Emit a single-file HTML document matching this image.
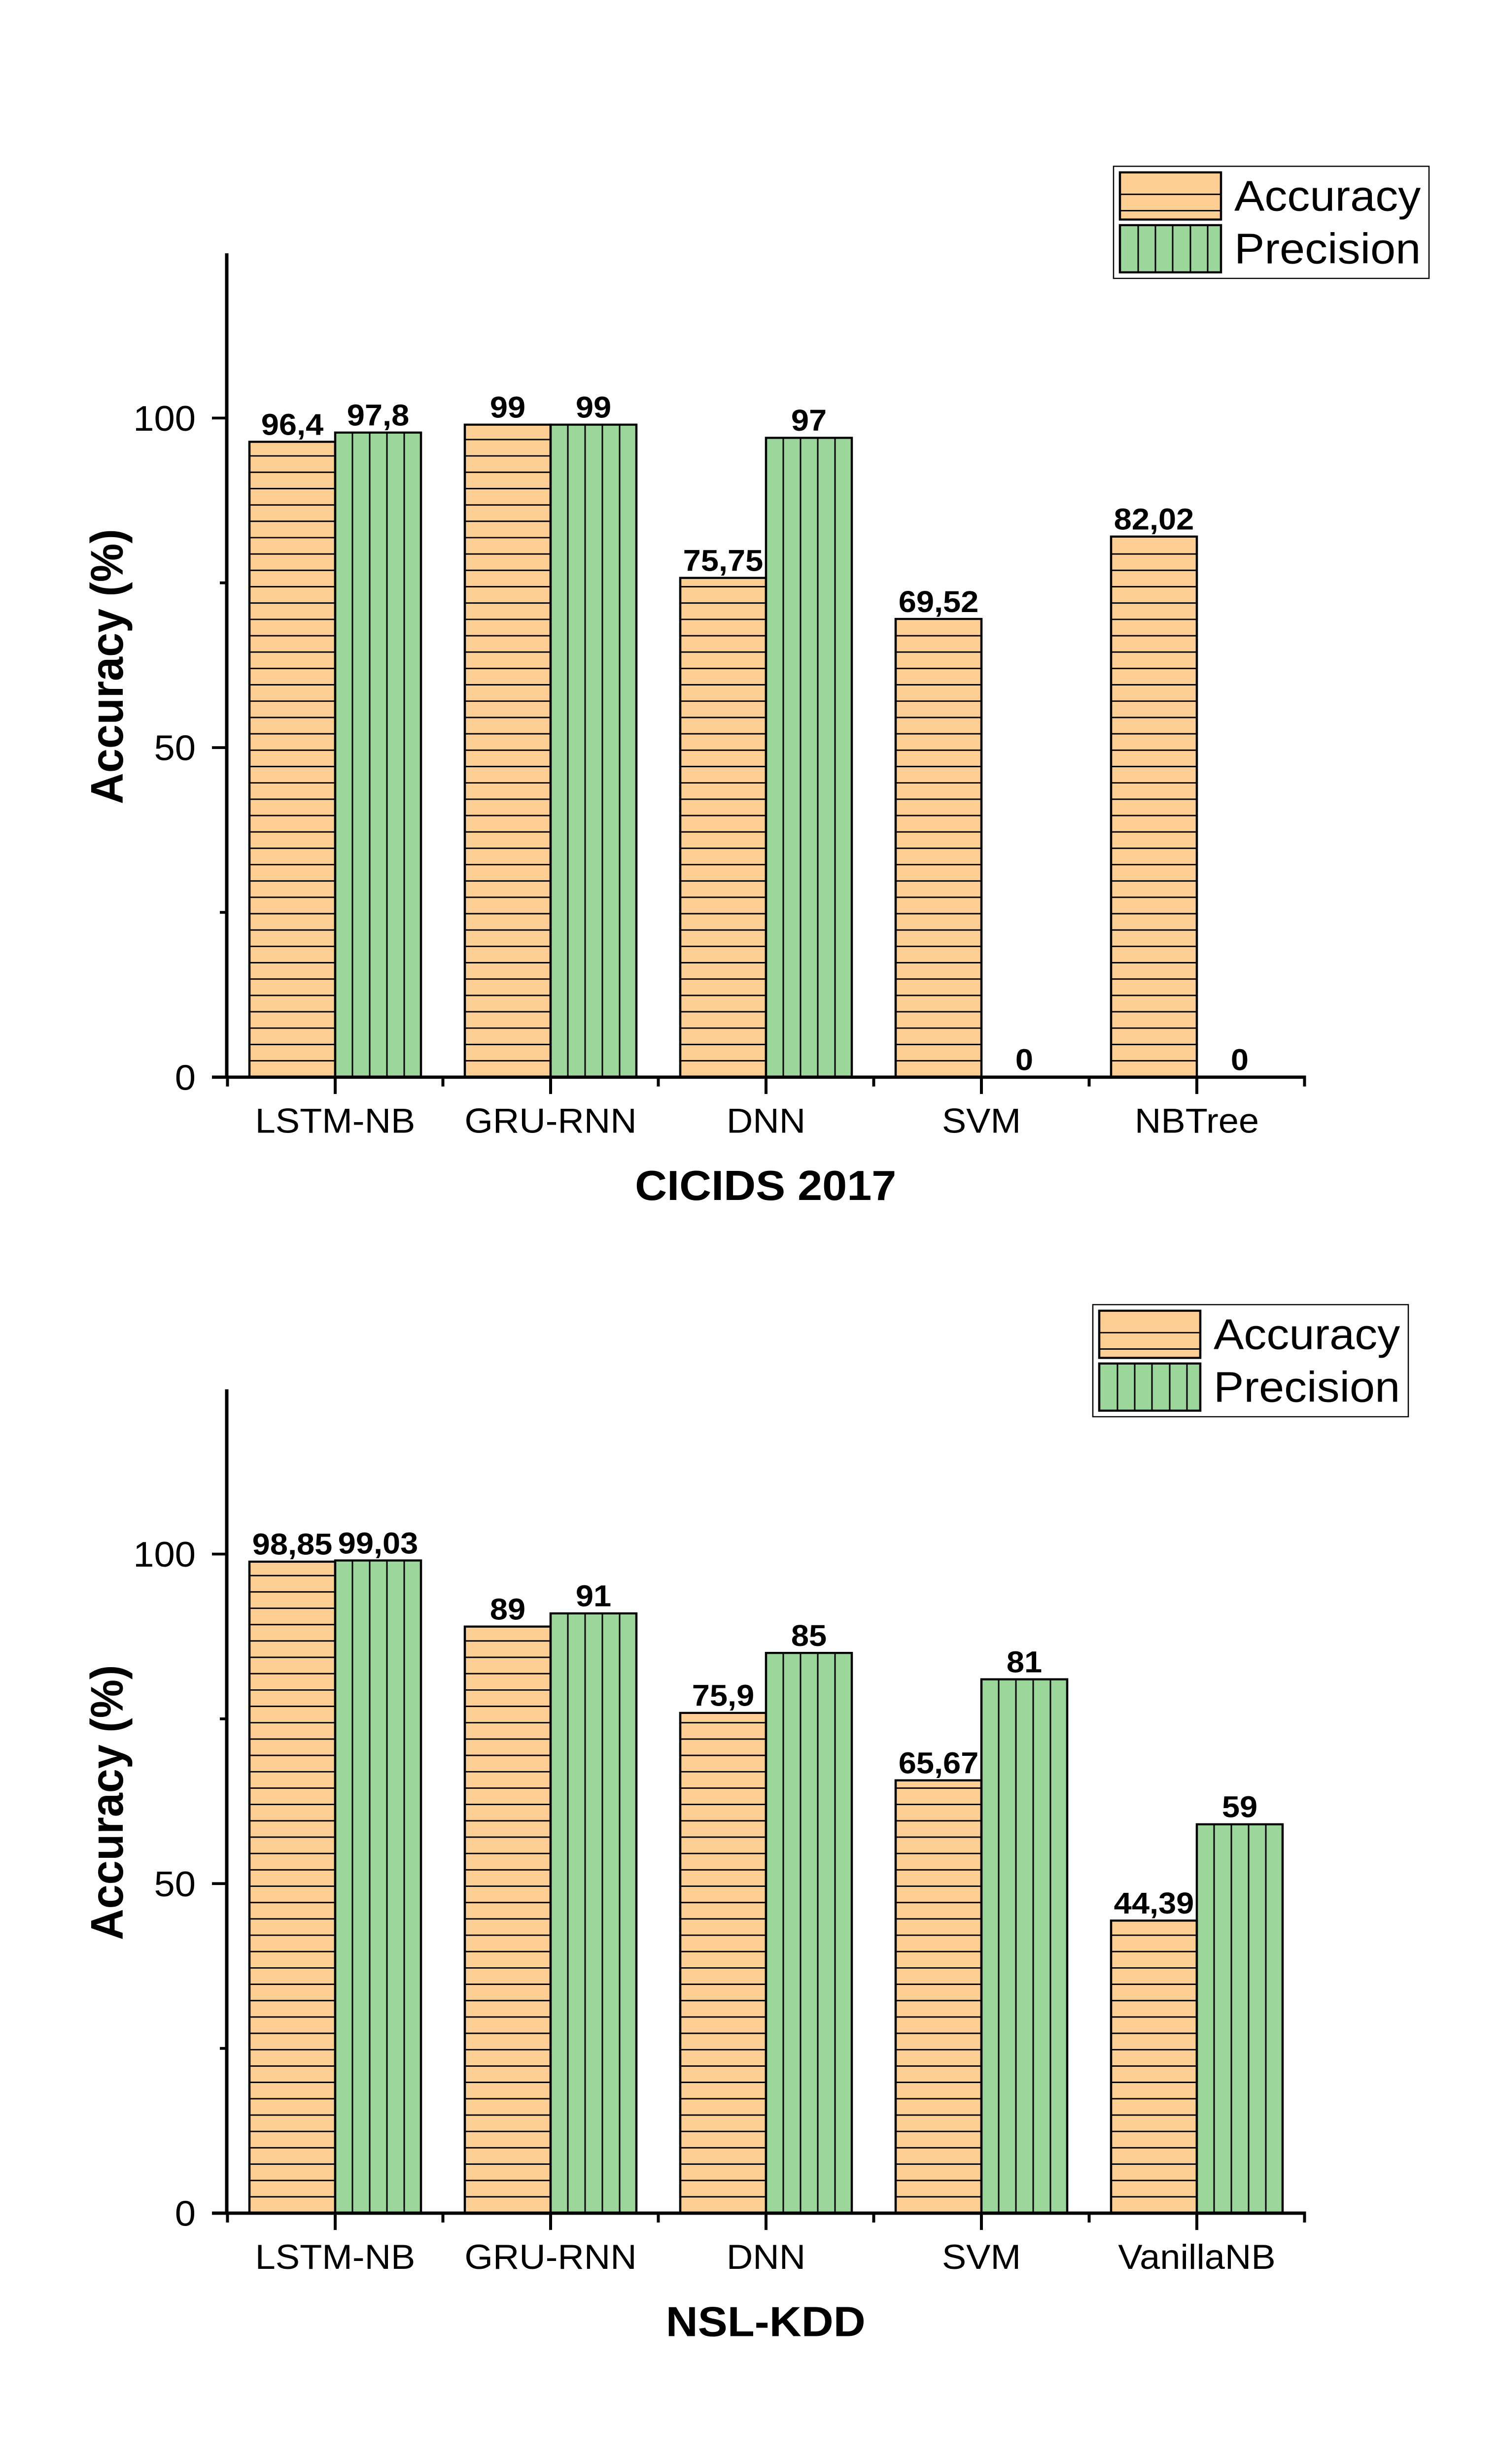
<!DOCTYPE html>
<html><head><meta charset="utf-8"><style>
html,body{margin:0;padding:0;background:#fff;width:100%;height:100%;overflow:hidden;}
svg{display:block;position:fixed;left:0;top:0;width:100vw;height:100vh;}
text{font-family:"Liberation Sans",Arial,sans-serif;fill:#000;}
</style></head>
<body>
<svg id="fig" xmlns="http://www.w3.org/2000/svg" viewBox="0 0 3041 5275" preserveAspectRatio="none">
<rect width="3041" height="5275" fill="#fff"/>
</svg>
<script>
const catsA = ["LSTM-NB","GRU-RNN","DNN","SVM","NBTree"];
const accA = [96.4, 99, 75.75, 69.52, 82.02];
const precA = [97.8, 99, 97, 0, 0];
const accLabelsA = ["96,4","99","75,75","69,52","82,02"];
const precLabelsA = ["97,8","99","97","0","0"];

const catsB = ["LSTM-NB","GRU-RNN","DNN","SVM","VanillaNB"];
const accB = [98.85, 89, 75.9, 65.67, 44.39];
const precB = [99.03, 91, 85, 81, 59];
const accLabelsB = ["98,85","89","75,9","65,67","44,39"];
const precLabelsB = ["99,03","91","85","81","59"];

const yMajorTicks = [0, 50, 100];
const yMinorTicks = [25, 75];
const yMax = 125;

const NS = "http://www.w3.org/2000/svg";
const svg = document.getElementById("fig");
function mk(tag, attrs, parent){
  const e = document.createElementNS(NS, tag);
  for (const k in attrs) e.setAttribute(k, attrs[k]);
  (parent||svg).appendChild(e);
  return e;
}
const ORANGE = "#FECF95", GREEN = "#9DD69A";

function drawChart(prefix, y0, cats, acc, prec, accL, precL, title, legX, legY){
  const g = mk("g", {});
  
  
  const pxPerUnit = 14.11;
  const xMin = 461.5, step = 437, bw = 174;
  const yS = v => y0 - v * pxPerUnit;
  const xC = i => xMin + step * (i + 0.5);

  function bar(i, v, isAcc, lbl){
    const left = isAcc ? xC(i) - bw : xC(i);
    const top = yS(v);
    const bg = mk("g", {}, g);
    
    
    if (v > 0) {
      mk("rect", {x:left, y:top, width:bw, height:y0-top, fill:isAcc?ORANGE:GREEN}, bg);
      if (isAcc) {
        for (let yy = y0 - 35; yy > top + 3; yy -= 35)
          mk("line", {x1:left, x2:left+bw, y1:yy, y2:yy, stroke:"#000", "stroke-width":3}, bg);
      } else {
        for (let xx = left + 35; xx < left + bw - 3; xx += 35)
          mk("line", {x1:xx, x2:xx, y1:top, y2:y0, stroke:"#000", "stroke-width":3}, bg);
      }
      mk("rect", {x:left, y:top, width:bw, height:y0-top, fill:"none", stroke:"#000", "stroke-width":4.5}, bg);
    }
    const t = mk("text", {x:left + bw/2, y:top - 15, "text-anchor":"middle", "font-size":65, "font-weight":"bold"}, g);
    
    
    t.textContent = lbl;
  }
  for (let i = 0; i < cats.length; i++){
    bar(i, acc[i], true, accL[i]);
    bar(i, prec[i], false, precL[i]);
  }

  const xEnd = xMin + step * cats.length;
  const yAx = mk("line", {x1:460, x2:460, y1:yS(yMax), y2:y0+3, stroke:"#000", "stroke-width":7}, g);
  
  
  const xAx = mk("line", {x1:430, x2:xEnd+3, y1:y0, y2:y0, stroke:"#000", "stroke-width":7}, g);
  
  

  yMajorTicks.forEach(v => {
    mk("line", {x1:430, x2:460, y1:yS(v), y2:yS(v), stroke:"#000", "stroke-width":6}, g);
    const t = mk("text", {x:397, y:yS(v)+27, "text-anchor":"end", "font-size":76}, g);
    
    
    t.textContent = v;
  });
  yMinorTicks.forEach(v => {
    mk("line", {x1:446, x2:460, y1:yS(v), y2:yS(v), stroke:"#000", "stroke-width":6}, g);
  });
  for (let i = 0; i <= cats.length; i++){
    const xx = xMin + step * i;
    mk("line", {x1:xx, x2:xx, y1:y0, y2:y0+20, stroke:"#000", "stroke-width":6}, g);
  }
  cats.forEach((c, i) => {
    mk("line", {x1:xC(i), x2:xC(i), y1:y0, y2:y0+36, stroke:"#000", "stroke-width":6}, g);
    const t = mk("text", {x:xC(i), y:y0+119, "text-anchor":"middle", "font-size":74}, g);
    
    
    t.textContent = c;
  });

  const yt = mk("text", {x:0, y:0, "text-anchor":"middle", "font-size":93, "font-weight":"bold",
    transform:"translate(249," + (y0 - 879) + ") rotate(-90)"}, g);
  
  
  yt.textContent = "Accuracy (%)";
  const xt = mk("text", {x:(460 + xEnd)/2, y:y0+263, "text-anchor":"middle", "font-size":90, "font-weight":"bold"}, g);
  
  
  xt.textContent = title;

  const lg = mk("g", {}, g);
  
  
  mk("rect", {x:legX, y:legY, width:640, height:240, fill:"#fff", stroke:"#000", "stroke-width":2.5}, lg);
  const sx = legX + 13, sw = 205;
  const e1 = mk("g", {}, lg);
  
  
  mk("rect", {x:sx, y:legY+13, width:sw, height:101, fill:ORANGE}, e1);
  [47, 82].forEach(d => mk("line", {x1:sx, x2:sx+sw, y1:legY+13+d, y2:legY+13+d, stroke:"#000", "stroke-width":3}, e1));
  mk("rect", {x:sx, y:legY+13, width:sw, height:101, fill:"none", stroke:"#000", "stroke-width":4.5}, e1);
  const la = mk("text", {x:legX+245, y:legY+95, "font-size":92}, e1);
  la.textContent = "Accuracy";
  const e2 = mk("g", {}, lg);
  
  
  mk("rect", {x:sx, y:legY+126, width:sw, height:101, fill:GREEN}, e2);
  [37, 72, 107, 143, 178].forEach(d => mk("line", {x1:sx+d, x2:sx+d, y1:legY+126, y2:legY+227, stroke:"#000", "stroke-width":3}, e2));
  mk("rect", {x:sx, y:legY+126, width:sw, height:101, fill:"none", stroke:"#000", "stroke-width":4.5}, e2);
  const lp = mk("text", {x:legX+245, y:legY+208, "font-size":92}, e2);
  lp.textContent = "Precision";
}

drawChart("cicids", 2306, catsA, accA, precA, accLabelsA, precLabelsA, "CICIDS 2017", 2259, 356);
drawChart("nslkdd", 4738, catsB, accB, precB, accLabelsB, precLabelsB, "NSL-KDD", 2217, 2793);
</script>
</body></html>
